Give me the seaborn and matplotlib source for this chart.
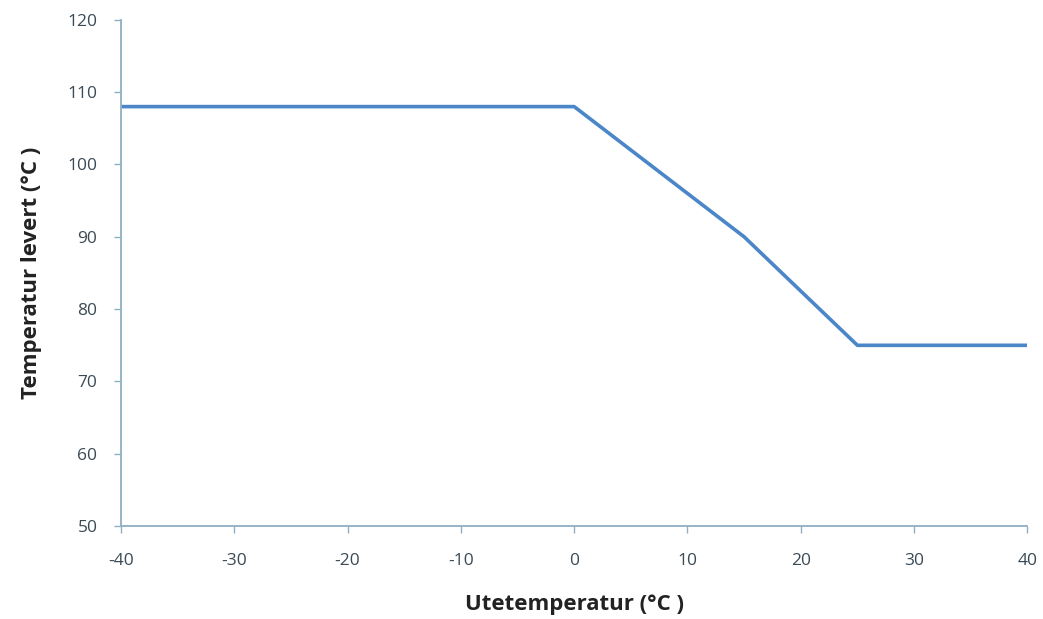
import numpy as np
import pandas as pd
import seaborn as sns
import matplotlib
matplotlib.use("Agg")
from matplotlib import pyplot as plt

# data
ute_temp = [-40, 0, 15, 25, 40]
levert_temp = [108, 108, 90, 75, 75]
x_ticks = [-40, -30, -20, -10, 0, 10, 20, 30, 40]
y_ticks = [50, 60, 70, 80, 90, 100, 110, 120]

df = pd.DataFrame({"ute": ute_temp, "levert": levert_temp})

sns.set_style("white")
plt.rcParams['font.family'] = ['Open Sans', 'DejaVu Sans']
plt.rcParams['axes.unicode_minus'] = False

fig = plt.figure(figsize=(10.43, 6.19), dpi=100)
ax = fig.add_axes([0.116, 0.15, 0.869, 0.818])

sns.lineplot(data=df, x="ute", y="levert", ax=ax, color="#4A86C8", linewidth=2.6)

ax.set_xlim(-40, 40)
ax.set_ylim(50, 120)
ax.set_xticks(x_ticks)
ax.set_yticks(y_ticks)

spine_col = "#8FAFC4"
for s in ["top", "right"]:
    ax.spines[s].set_visible(False)
for s in ["left", "bottom"]:
    ax.spines[s].set_color(spine_col)
    ax.spines[s].set_linewidth(1.3)

ax.tick_params(axis="both", which="major", direction="out", length=5, width=1,
               color=spine_col, labelsize=12.5, labelcolor="#3a4a55",
               bottom=True, left=True)
ax.tick_params(axis="x", pad=14)
ax.tick_params(axis="y", pad=12)

ax.set_xlabel("Utetemperatur (°C )", fontsize=16, fontweight="bold", color="#222222", labelpad=18)
ax.set_ylabel("Temperatur levert (°C )", fontsize=16, fontweight="bold", color="#222222", labelpad=18)

fig.savefig("out.png", dpi=100)
